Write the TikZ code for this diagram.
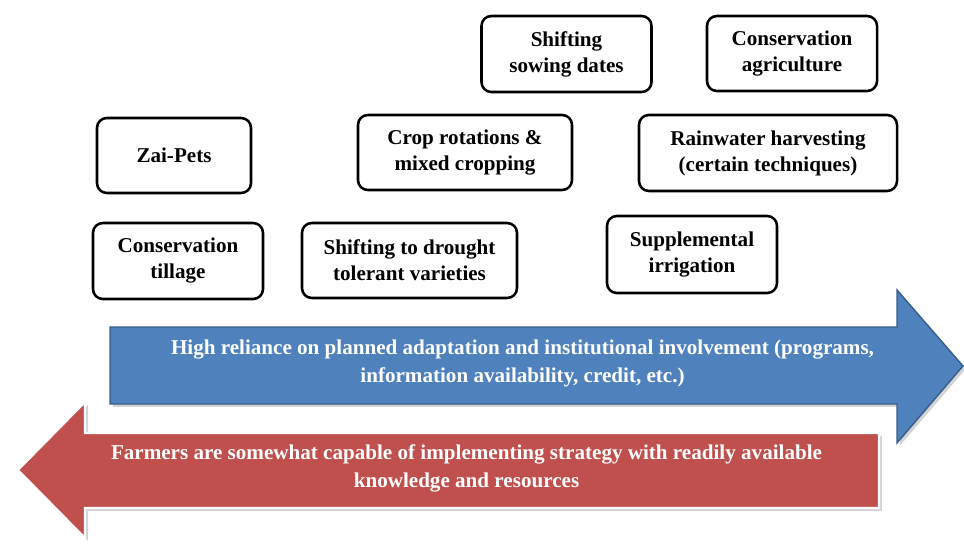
\documentclass[tikz,border=0pt]{standalone}
\usepackage{fontspec}
\setmainfont{Liberation Serif}
\usetikzlibrary{shadows}

\definecolor{planblue}{HTML}{4F81BD}
\definecolor{planedge}{HTML}{385D8A}
\definecolor{farmred}{HTML}{C0504D}

\newdimen\px \px=0.025cm

\begin{document}
\begin{tikzpicture}[x=\px, y=-\px]
\useasboundingbox (0,0) rectangle (964,544);

\begin{scope}[every node/.style={draw=black,line width=1.8pt,rounded corners=7pt,align=center,
                                 inner sep=0pt,font=\bfseries\fontsize{15}{18.5}\selectfont}]
    \node[minimum width=170\px,minimum height=76\px] (sow) at (566.5,54) {Shifting\\sowing dates};
    \node[minimum width=170\px,minimum height=75\px] (consag) at (792,53.5) {Conservation\\agriculture};
    \node[minimum width=154\px,minimum height=75\px] (zai) at (174,155.5) {Zai-Pets};
    \node[minimum width=214\px,minimum height=75\px] (crop) at (465,152.5) {Crop rotations \&\\mixed cropping};
    \node[minimum width=258\px,minimum height=76\px] (rain) at (768,153) {Rainwater harvesting\\(certain techniques)};
    \node[minimum width=170\px,minimum height=76\px] (till) at (178,261) {Conservation\\tillage};
    \node[minimum width=215\px,minimum height=75\px] (drought) at (409.5,260.5) {Shifting to drought\\tolerant varieties};
    \node[minimum width=170\px,minimum height=77\px] (supp) at (692,254.5) {Supplemental\\irrigation};
\end{scope}

\begin{scope}[every node/.style={align=center,text=white,font=\bfseries\fontsize{15}{20}\selectfont},
              shade/.style={drop shadow={opacity=0.35,shadow xshift=2pt,shadow yshift=-2pt}}]
    \path[fill=planblue,draw=planedge,line width=1pt,shade]
        (110,327) -- (897,327) -- (897,290) -- (963,366) -- (897,443) -- (897,404) -- (110,404) -- cycle;
    \node (planned) at (522.5,363.5) {High reliance on planned adaptation and institutional involvement (programs,\\information availability, credit, etc.)};

    \path[fill=farmred,draw=white,line width=1.5pt,shade]
        (879,433) -- (85,433) -- (85,402) -- (18,470) -- (85,538) -- (85,508) -- (879,508) -- cycle;
    \node (farmers) at (466.5,468.5) {Farmers are somewhat capable of implementing strategy with readily available\\knowledge and resources};
\end{scope}
\end{tikzpicture}
\end{document}
